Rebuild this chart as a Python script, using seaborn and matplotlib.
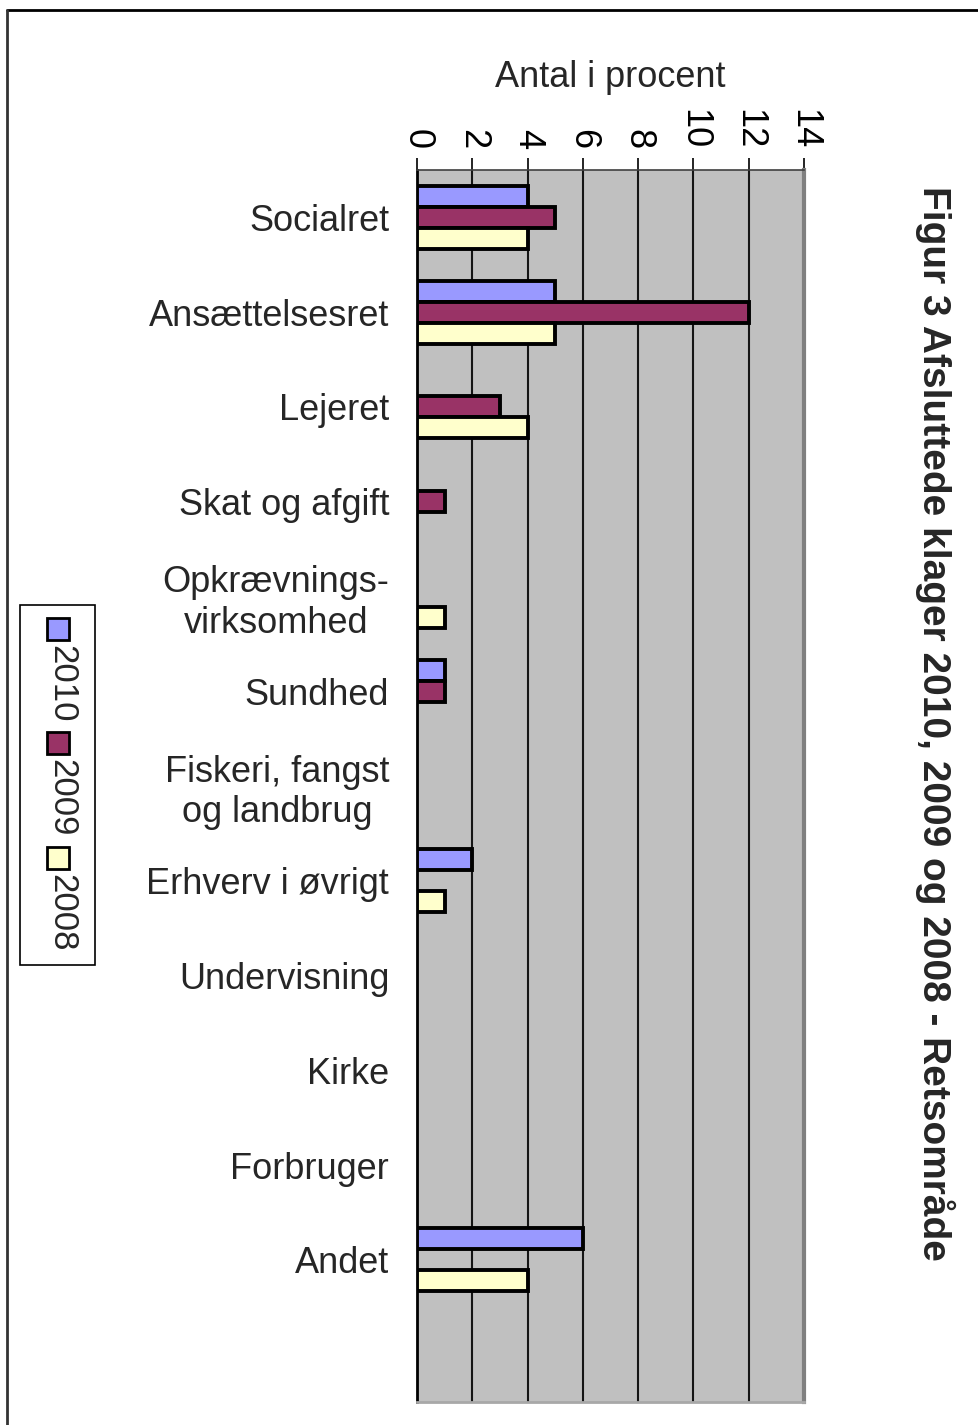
import numpy as np
import pandas as pd
import seaborn as sb
import matplotlib
matplotlib.use('Agg')
from matplotlib import pyplot as plt
from matplotlib.patches import Rectangle
from matplotlib.lines import Line2D

categories = ['Socialret', 'Ansættelsesret', 'Lejeret', 'Skat og afgift',
              'Opkrævnings-\nvirksomhed', 'Sundhed', 'Fiskeri, fangst\nog landbrug',
              'Erhverv i øvrigt', 'Undervisning', 'Kirke', 'Forbruger', 'Andet']
years = ['2010', '2009', '2008']
nan = np.nan
values_2010 = [4, 5, nan, nan, nan, 1, nan, 2, nan, nan, nan, 6]
values_2009 = [5, 12, 3, 1, nan, 1, nan, nan, nan, nan, nan, nan]
values_2008 = [4, 5, 4, nan, 1, nan, nan, 1, nan, nan, nan, 4]
colors = ['#9999FF', '#993366', '#FFFFCC']
x_ticks = [0, 2, 4, 6, 8, 10, 12, 14]
title = 'Figur 3 Afsluttede klager 2010, 2009 og 2008 - Retsområde'
x_label = 'Antal i procent'

rows = []
for year, vals in zip(years, [values_2010, values_2009, values_2008]):
    for cat, v in zip(categories, vals):
        rows.append({'kategori': cat, 'aar': year, 'procent': v})
df = pd.DataFrame(rows).dropna()

sb.set_style('white')
plt.rcParams['font.family'] = ['Liberation Sans', 'DejaVu Sans']

fig = plt.figure(figsize=(9.79, 14.25), dpi=100)
ax = fig.add_axes([417 / 979, 1 - 1402 / 1425, 387 / 979, 1232 / 1425])
ax.set_facecolor('#C0C0C0')

sb.barplot(data=df, x='procent', y='kategori', hue='aar', order=categories,
           hue_order=years, palette=colors, orient='h', width=0.665,
           edgecolor='black', linewidth=2.8, saturation=1, legend=False,
           errorbar=None, ax=ax, zorder=3)

n = len(categories)
ax.set_xlim(0, 14)
ax.set_ylim(n + 0.5, -0.5)

# x axis on top, rotated numbers
ax.xaxis.tick_top()
ax.xaxis.set_label_position('top')
ax.set_xticks(x_ticks)
ax.set_xticklabels([str(t) for t in x_ticks], rotation=270, fontsize=26)
ax.tick_params(axis='x', direction='out', length=9, width=1.2, pad=6, colors='black')
ax.set_xlabel(x_label, fontsize=26, labelpad=16)
ax.xaxis.grid(True, color='#151515', linewidth=1.5, zorder=0)
ax.set_axisbelow(True)

# category ticks at boundaries, labels at centres
ax.set_yticks(np.arange(n + 1) - 0.5)
ax.set_yticklabels([])
ax.set_yticks(np.arange(n), minor=True)
ax.set_yticklabels(categories, minor=True, fontsize=26)
for lbl in ax.get_yticklabels(minor=True):
    lbl.set_multialignment('center')
ax.tick_params(axis='y', which='major', direction='out', length=10, width=1.2, color='#202020')
ax.tick_params(axis='y', which='minor', length=0, pad=20)
ax.set_ylabel('')

for side in ['top', 'left', 'right', 'bottom']:
    ax.spines[side].set_visible(True)
ax.spines['left'].set_color('black')
ax.spines['left'].set_linewidth(2)
ax.spines['top'].set_color('#404040')
ax.spines['top'].set_linewidth(1.2)
ax.spines['right'].set_color('#808080')
ax.spines['right'].set_linewidth(3)
ax.spines['bottom'].set_color('#A8A8A8')
ax.spines['bottom'].set_linewidth(2)

# title, rotated on the right
fig.text(935 / 979, 1 - 723 / 1425, title, rotation=270, ha='center', va='center',
         fontsize=28, fontweight='bold')

# legend box on the left, rotated
fig.patches.append(Rectangle((20 / 979, 1 - 965 / 1425), 75 / 979, 360 / 1425,
                             transform=fig.transFigure, facecolor='white',
                             edgecolor='black', linewidth=1.2))
sq_top = [618, 732, 847]
txt_mid = [684, 798, 913]
for year, col, st, tm in zip(years, colors, sq_top, txt_mid):
    fig.patches.append(Rectangle((47 / 979, 1 - (st + 22) / 1425), 22 / 979, 22 / 1425,
                                 transform=fig.transFigure, facecolor=col,
                                 edgecolor='black', linewidth=2))
    fig.text(62 / 979, 1 - tm / 1425, year, rotation=270, ha='center', va='center',
             fontsize=25)

# outer frame
fig.lines.append(Line2D([7 / 979, 1], [1 - 9.5 / 1425, 1 - 9.5 / 1425],
                        transform=fig.transFigure, color='black', linewidth=2))
fig.lines.append(Line2D([7 / 979, 7 / 979], [0, 1 - 9.5 / 1425],
                        transform=fig.transFigure, color='#333333', linewidth=2))

fig.savefig('out.png', dpi=100)
